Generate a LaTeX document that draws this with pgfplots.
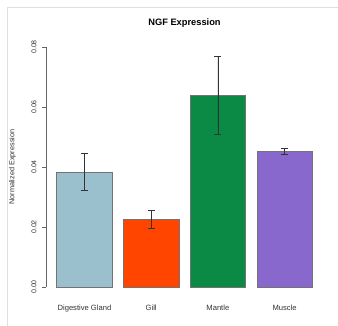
\documentclass[border=0pt]{standalone}
\usepackage{fontspec}
\setmainfont{Liberation Sans}
\usepackage{pgfplots}
\pgfplotsset{compat=1.18}
\definecolor{cDG}{HTML}{9AC0CD}
\definecolor{cGill}{HTML}{FF4500}
\definecolor{cMantle}{HTML}{0B8A45}
\definecolor{cMuscle}{HTML}{8968CD}
\begin{document}
\begin{tikzpicture}[x=1pt,y=1pt]
\path[use as bounding box, fill=white] (0,0) rectangle (338,326);
\draw[black!12, line width=1pt] (338,318) -- (7,318) -- (7,0);
\begin{axis}[
  at={(46.4pt,29.4pt)}, anchor=south west,
  scale only axis, width=276.2pt, height=259.2pt,
  xmin=0.016, xmax=4.984, ymin=-0.0032, ymax=0.0832,
  axis lines*=left, axis line style={draw=none},
  xtick={0.7,1.9,3.1,4.3},
  xticklabels={Digestive Gland, Gill, Mantle, Muscle},
  xtick style={draw=none},
  xticklabel style={font=\fontsize{7.6}{8}\selectfont, text=black!80, yshift=-0.5pt},
  ytick={0,0.02,0.04,0.06,0.08},
  yticklabel style={font=\fontsize{7}{8}\selectfont, text=black!80, rotate=90, anchor=south},
  yticklabel shift=2.5pt,
  /pgf/number format/.cd, fixed, fixed zerofill, precision=2, assume math mode=true, /pgfplots/.cd,
  scaled y ticks=false,
  tick align=outside, major tick length=4pt,
  ytick style={black!60, line width=0.5pt},
  ylabel={Normalized Expression},
  ylabel style={font=\fontsize{7.3}{8}\selectfont, text=black!80, at={(axis description cs:-0.123,0.5)}, anchor=center},
  title={\textbf{NGF Expression}},
  title style={font=\fontsize{9.3}{10}\selectfont, at={(axis description cs:0.5,1)}, anchor=center, yshift=8.4pt},
  clip=false,
  every axis plot/.append style={ybar, bar width=1, bar shift=0pt, draw=black!55, line width=0.4pt,
    error bars/y dir=both, error bars/y explicit,
    error bars/error bar style={black!80, line width=0.5pt},
    error bars/error mark options={rotate=90, mark size=3.5pt, black!80, line width=0.5pt}},
]
\addplot[fill=cDG] coordinates {(0.7,0.0382) += (0,0.0064) -= (0,0.0061)};
\addplot[fill=cGill] coordinates {(1.9,0.0226) += (0,0.0030) -= (0,0.0030)};
\addplot[fill=cMantle] coordinates {(3.1,0.0640) += (0,0.0128) -= (0,0.0131)};
\addplot[fill=cMuscle] coordinates {(4.3,0.0452) += (0,0.0009) -= (0,0.0009)};
\draw[black!60, line width=0.5pt] (axis cs:0.016,0) -- (axis cs:0.016,0.08);
\end{axis}
\end{tikzpicture}
\end{document}
